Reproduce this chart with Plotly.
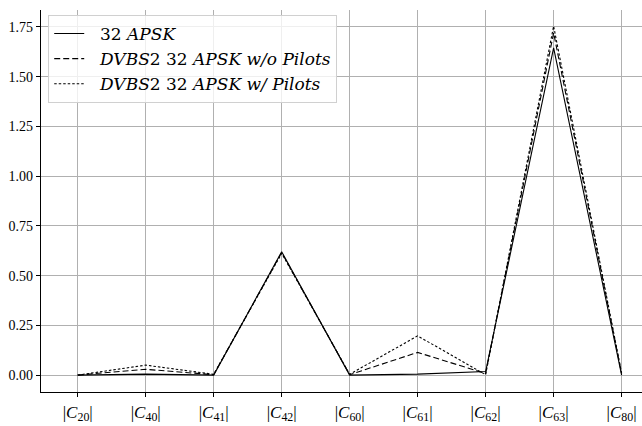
import plotly.graph_objects as go

categories = ["|<i>C</i><sub>20</sub>|", "|<i>C</i><sub>40</sub>|", "|<i>C</i><sub>41</sub>|",
              "|<i>C</i><sub>42</sub>|", "|<i>C</i><sub>60</sub>|", "|<i>C</i><sub>61</sub>|",
              "|<i>C</i><sub>62</sub>|", "|<i>C</i><sub>63</sub>|", "|<i>C</i><sub>80</sub>|"]
apsk32 = [0.0, 0.005, 0.0, 0.62, 0.0, 0.005, 0.018, 1.645, 0.0]
dvbs2_no_pilots = [0.0, 0.029, 0.002, 0.616, 0.002, 0.114, 0.008, 1.72, 0.008]
dvbs2_pilots = [0.0, 0.05, 0.004, 0.612, 0.004, 0.197, 0.002, 1.754, 0.01]

names = ["\u00a0\u00a032 <i>APSK</i>",
         "\u00a0\u00a0<i>DVBS</i>2 32 <i>APSK w/o Pilots</i>",
         "\u00a0\u00a0<i>DVBS</i>2 32 <i>APSK w/ Pilots</i>"]

x_idx = list(range(len(categories)))
fig = go.Figure()
fig.add_trace(go.Scatter(x=x_idx, y=apsk32, mode="lines", name=names[0],
                         line=dict(color="black", width=1.1)))
fig.add_trace(go.Scatter(x=x_idx, y=dvbs2_no_pilots, mode="lines", name=names[1],
                         line=dict(color="black", width=1.1, dash="6px,3px")))
fig.add_trace(go.Scatter(x=x_idx, y=dvbs2_pilots, mode="lines", name=names[2],
                         line=dict(color="black", width=1.1, dash="2.5px,2px")))

serif = "DejaVu Serif, Liberation Serif, serif"
fig.update_layout(
    width=642, height=426,
    margin=dict(l=41, r=0, t=10, b=34, autoexpand=False),
    paper_bgcolor="white", plot_bgcolor="white",
    font=dict(family=serif, size=14, color="black"),
    showlegend=True,
    legend=dict(x=0.012, y=0.987, xanchor="left", yanchor="top",
                bgcolor="rgba(255,255,255,0.8)", bordercolor="#d0d0d0", borderwidth=1,
                font=dict(family=serif, size=17),
                tracegroupgap=0, itemwidth=30),
)
fig.update_xaxes(
    tickmode="array", tickvals=x_idx, ticktext=categories,
    range=[-0.54, 8.3], automargin=False,
    showgrid=True, gridcolor="#b0b0b0", gridwidth=1,
    showline=True, linecolor="black", linewidth=1.2,
    ticks="outside", ticklen=4, tickcolor="black",
    zeroline=False, tickfont=dict(family="Liberation Serif, serif", size=17),
)
fig.update_yaxes(
    tickmode="array", tickvals=[0, 0.25, 0.5, 0.75, 1.0, 1.25, 1.5, 1.75],
    ticktext=["0.00", "0.25", "0.50", "0.75", "1.00", "1.25", "1.50", "1.75"],
    range=[-0.085, 1.835], automargin=False,
    showgrid=True, gridcolor="#b0b0b0", gridwidth=1,
    showline=True, linecolor="black", linewidth=1.2,
    ticks="outside", ticklen=4, tickcolor="black",
    zeroline=False, tickfont=dict(family="Liberation Serif, serif", size=14),
)
fig.write_html("out.html", config={"displayModeBar": False},
               post_script="document.body.style.margin='0';")
